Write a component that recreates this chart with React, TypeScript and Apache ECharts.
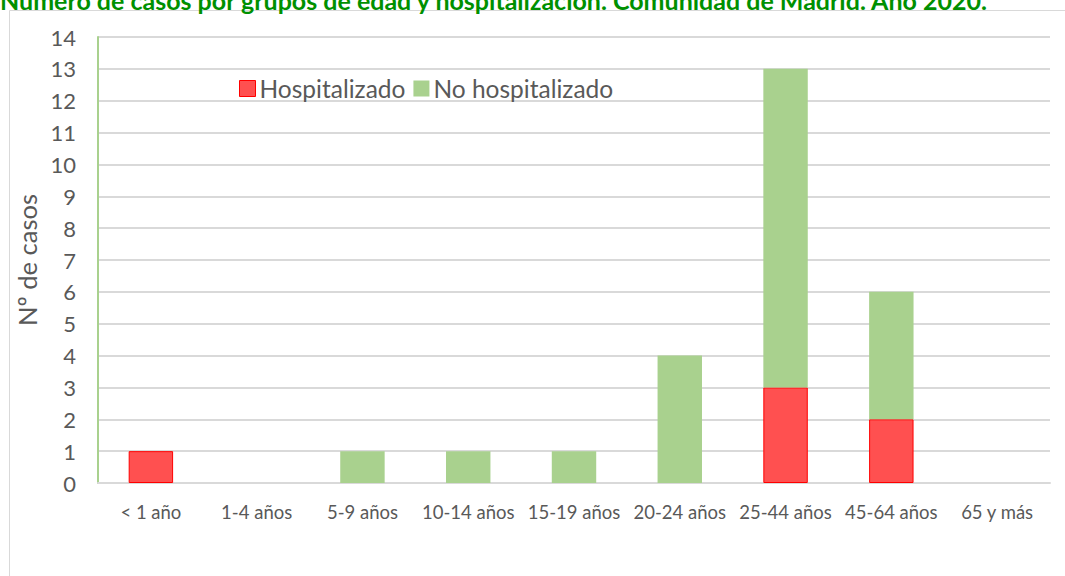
import React, { useEffect, useRef } from "react";
import * as echarts from "echarts";

const categories = ["< 1 año", "1-4 años", "5-9 años", "10-14 años", "15-19 años", "20-24 años", "25-44 años", "45-64 años", "65 y más"];
const hospitalizado = [1, 0, 0, 0, 0, 0, 3, 2, 0];
const noHospitalizado = [0, 0, 1, 1, 1, 4, 10, 4, 0];
const titleText = "Número de casos por grupos de edad y hospitalización. Comunidad de Madrid. Año 2020.";
const yAxisName = "Nº de casos";

const FONT = "Lato, 'Open Sans', sans-serif";
const hideZero = (arr: number[]) => arr.map((v) => (v === 0 ? "-" : v));

export default function App() {
  const ref = useRef<HTMLDivElement>(null);
  useEffect(() => {
    document.body.style.margin = "0";
    const chart = echarts.init(ref.current!, null, { renderer: "svg" });
    chart.setOption({
      animation: false,
      backgroundColor: "#ffffff",
      textStyle: { fontFamily: FONT },
      graphic: [
        {
          type: "rect",
          shape: { x: 9.5, y: 10.5, width: 1070, height: 600 },
          style: { fill: "none", stroke: "#D9D9D9", lineWidth: 1 },
          z: -1,
        },
        {
          type: "text",
          x: 0,
          y: -13,
          style: {
            text: titleText,
            fill: "#009000",
            font: `bold 25px ${FONT}`,
          },
        },
      ],
      legend: {
        left: 234,
        top: 71,
        icon: "rect",
        itemWidth: 16,
        itemHeight: 16,
        itemGap: 8,
        textStyle: { fontSize: 24.5, color: "#595959", fontFamily: FONT, padding: [0, 0, 0, -1] },
        data: [
          { name: "Hospitalizado", itemStyle: { color: "#FF5050", borderColor: "#FF0000", borderWidth: 1 } },
          { name: "No hospitalizado", itemStyle: { color: "#A9D18E", borderWidth: 0 } },
        ],
      },
      grid: { left: 98, right: 15, top: 37, bottom: 93, containLabel: false },
      xAxis: {
        type: "category",
        data: categories,
        axisLine: { lineStyle: { color: "#D9D9D9", width: 2 } },
        axisTick: { show: false },
        axisLabel: { color: "#595959", fontSize: 18.5, margin: 19, interval: 0, hideOverlap: false, fontFamily: FONT },
      },
      yAxis: {
        type: "value",
        min: 0,
        max: 14,
        interval: 1,
        name: yAxisName,
        nameLocation: "middle",
        nameGap: 58,
        nameTextStyle: { color: "#595959", fontSize: 25.5, fontFamily: FONT },
        axisLine: { show: true, lineStyle: { color: "#A9D18E", width: 2 } },
        axisTick: { show: false },
        axisLabel: { color: "#595959", fontSize: 22, margin: 22, fontFamily: FONT },
        splitLine: { lineStyle: { color: "#D9D9D9", width: 2 } },
      },
      series: [
        {
          name: "Hospitalizado",
          type: "bar",
          stack: "total",
          barWidth: "42%",
          data: hideZero(hospitalizado),
          itemStyle: { color: "#FF5050", borderColor: "#FF0000", borderWidth: 1 },
        },
        {
          name: "No hospitalizado",
          type: "bar",
          stack: "total",
          barWidth: "42%",
          data: hideZero(noHospitalizado),
          itemStyle: { color: "#A9D18E" },
        },
      ],
    });
    return () => chart.dispose();
  }, []);
  return <div ref={ref} style={{ width: 1065, height: 576 }} />;
}
